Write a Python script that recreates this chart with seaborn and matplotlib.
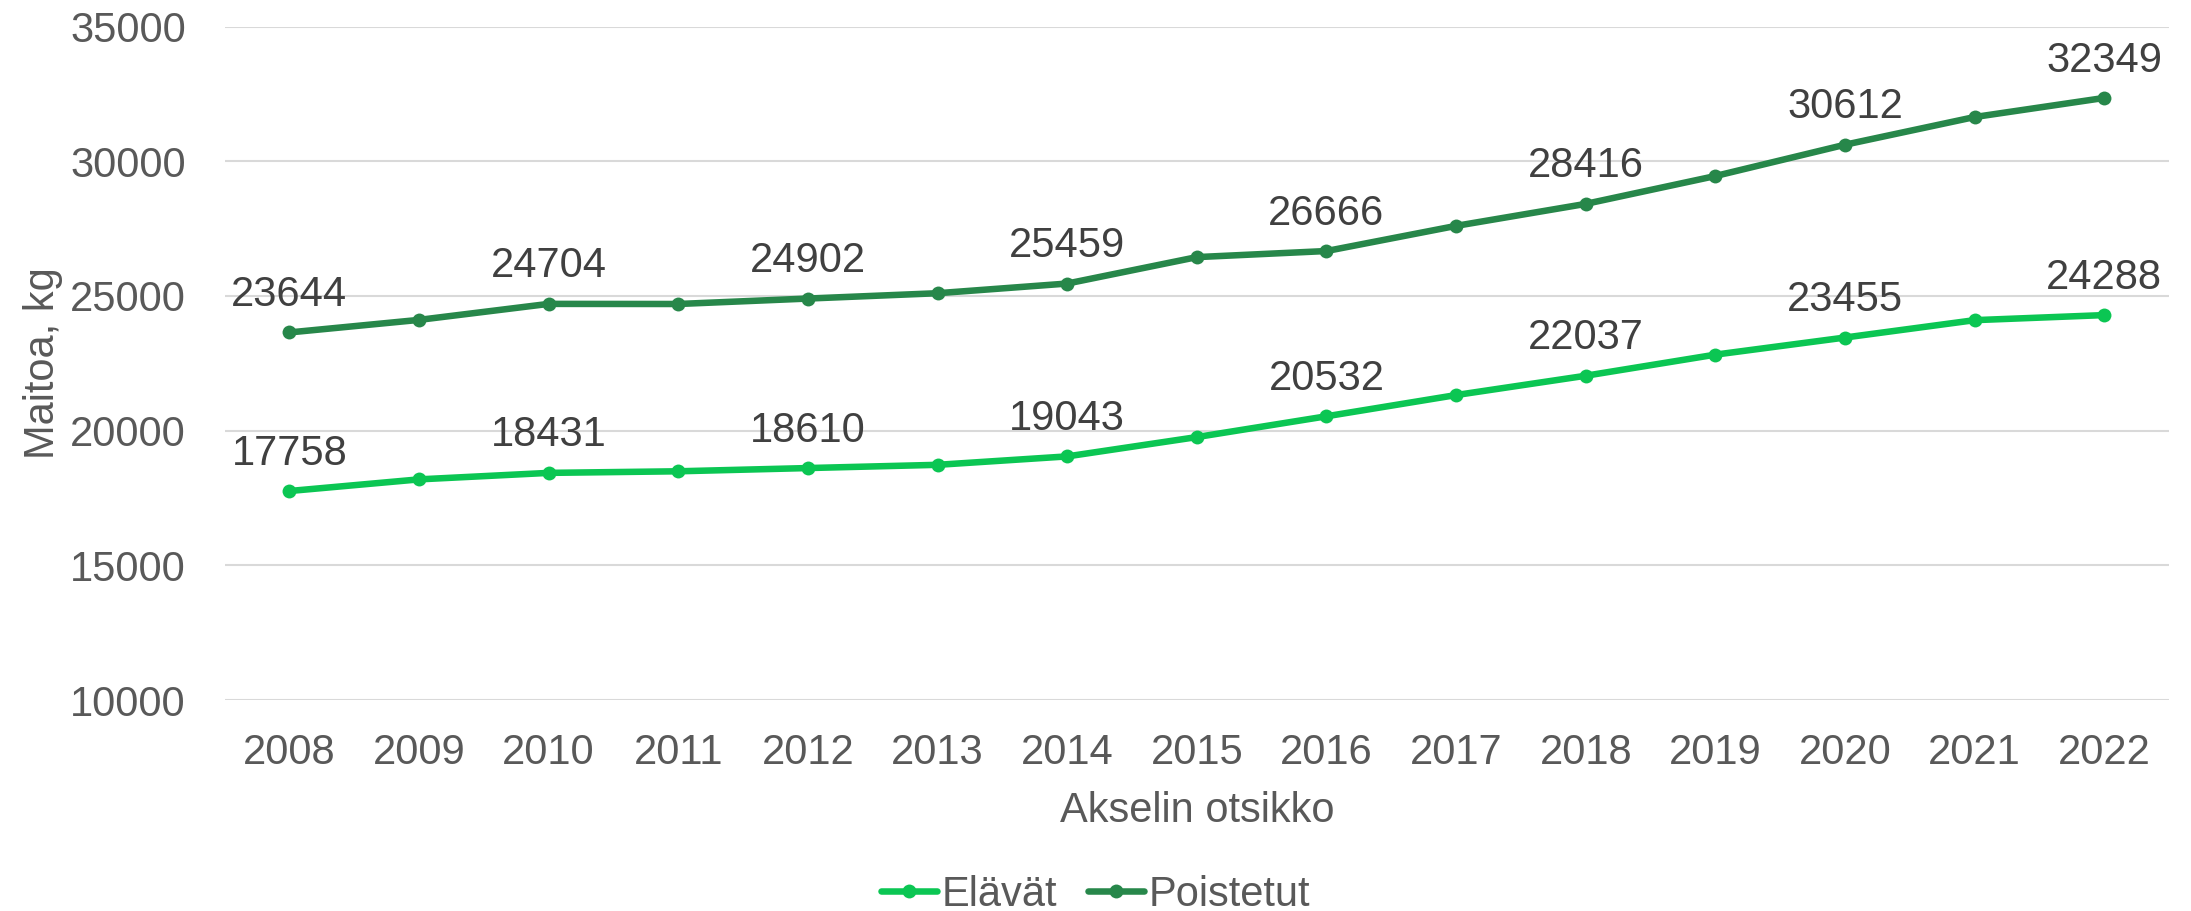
import pandas as pd
import matplotlib
matplotlib.use("Agg")
import matplotlib.pyplot as plt
import seaborn as sns

years = list(range(2008, 2023))
elavat = [17758, 18190, 18431, 18490, 18610, 18730, 19043, 19760,
          20532, 21320, 22037, 22820, 23455, 24100, 24288]
poistetut = [23644, 24110, 24704, 24700, 24902, 25100, 25459, 26440,
             26666, 27600, 28416, 29450, 30612, 31640, 32349]
labelled_years = [2008, 2010, 2012, 2014, 2016, 2018, 2020, 2022]
series_names = ['Elävät', 'Poistetut']
colors = ['#0BC653', '#27874A']


def main():
    sns.set_style('white')
    plt.rcParams['font.family'] = ['Liberation Sans', 'DejaVu Sans']

    df = pd.DataFrame({
        'vuosi': years * 2,
        'maitoa': elavat + poistetut,
        'sarja': [series_names[0]] * len(years) + [series_names[1]] * len(years),
    })

    fig = plt.figure(figsize=(21.91, 9.11), dpi=100)
    ax = fig.add_axes([0.1025, 0.2316, 0.8875, 0.7393])

    sns.lineplot(data=df, x='vuosi', y='maitoa', hue='sarja',
                 palette=dict(zip(series_names, colors)),
                 marker='o', markersize=10, markeredgewidth=0,
                 linewidth=4.7, ax=ax, legend=True)

    # data labels on every other year
    for name, vals in zip(series_names, [elavat, poistetut]):
        for yr, v in zip(years, vals):
            if yr in labelled_years:
                ax.annotate(str(v), (yr, v), xytext=(0, 19), textcoords='offset points',
                            ha='center', va='baseline', fontsize=30, color='#404040')

    ax.set_xlim(2007.5, 2022.5)
    ax.set_ylim(10000, 35000)
    ax.set_xticks(years)
    ax.set_yticks(range(10000, 35001, 5000))
    ax.yaxis.grid(True, color='#D9D9D9', linewidth=1.5)
    ax.set_axisbelow(True)
    for s in ax.spines.values():
        s.set_visible(False)
    ax.tick_params(axis='both', length=0, labelsize=30, labelcolor='#595959')
    ax.tick_params(axis='y', pad=28)
    ax.tick_params(axis='x', pad=24)

    ax.set_xlabel('Akselin otsikko', fontsize=30, color='#595959', labelpad=13)
    ax.set_ylabel('Maitoa, kg', fontsize=30, color='#595959', labelpad=5)

    ax.legend_.remove()
    handles, labels = ax.get_legend_handles_labels()
    fig.legend(handles, labels, loc='center', bbox_to_anchor=(0.5, 0.018),
               ncol=2, frameon=False, fontsize=30, labelcolor='#595959',
               handlelength=1.35, handletextpad=0.1, columnspacing=0.75)

    fig.savefig('out.png', dpi=100)


if __name__ == "__main__":
    main()
